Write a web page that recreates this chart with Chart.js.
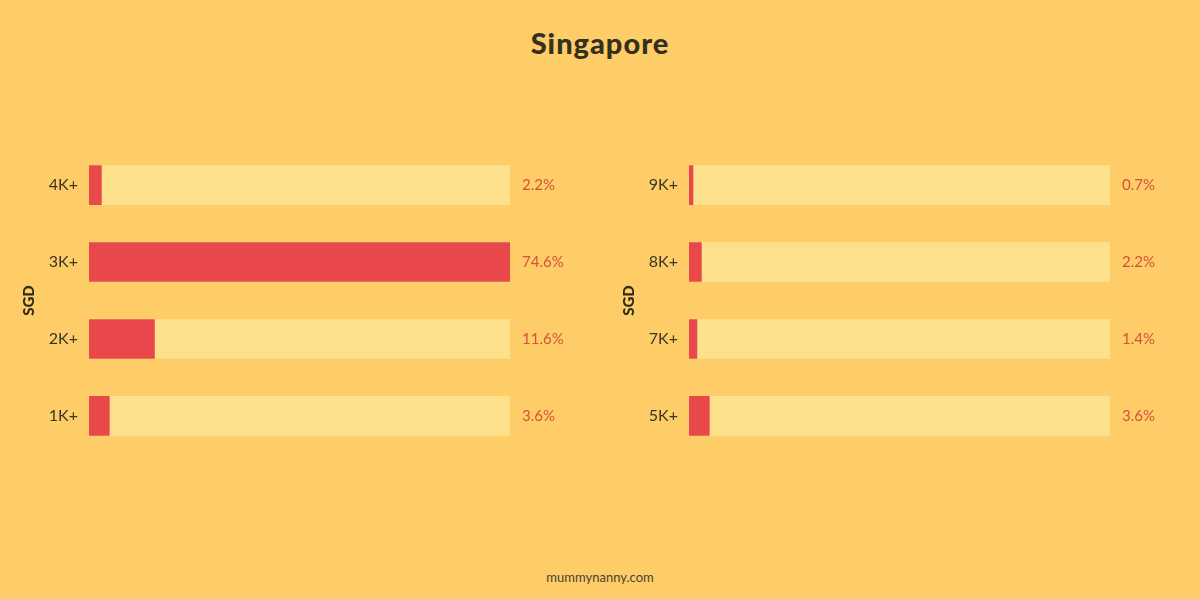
<!DOCTYPE html>
<html>
<head>
<meta charset="utf-8">
<script src="https://cdn.jsdelivr.net/npm/chart.js@4/dist/chart.umd.min.js"></script>
<style>
  body { margin: 0; background: #fecd67; width: 1200px; height: 599px; overflow: hidden; position: relative; font-family: Lato, "Noto Sans", sans-serif; }
  h1 { position: absolute; top: 25px; left: 0; width: 1200px; margin: 0; text-align: center; font-size: 29px; font-weight: 900; color: #33301e; letter-spacing: 1px; }
  .box { position: absolute; top: 134px; width: 600px; height: 333px; }
  .foot { position: absolute; top: 569px; left: 0; width: 1200px; text-align: center; font-size: 13px; color: #4a4230; }
</style>
</head>
<body>
<h1>Singapore</h1>
<div class="box" style="left:0"><canvas id="left-chart"></canvas></div>
<div class="box" style="left:600px"><canvas id="right-chart"></canvas></div>
<div class="foot">mummynanny.com</div>
<script>
var leftLabels = ["4K+", "3K+", "2K+", "1K+"];
var leftValues = [2.2, 74.6, 11.6, 3.6];
var rightLabels = ["9K+", "8K+", "7K+", "5K+"];
var rightValues = [0.7, 2.2, 1.4, 3.6];
var scaleMax = 74.6;

// draws the percent text to the right of each track
var valueText = {
    id: 'valueText',
    afterDatasetsDraw: function (chart) {
        var c = chart.ctx;
        var y = chart.scales.y;
        var vals = chart.data.datasets[0].data;
        c.save();
        c.font = '15px Lato, "Noto Sans", sans-serif';
        c.fillStyle = '#d4503c';
        c.textBaseline = 'middle';
        for (var i = 0; i < vals.length; i++) {
            c.fillText(vals[i].toFixed(1) + '%', chart.chartArea.right + 12, y.getPixelForValue(i));
        }
        c.restore();
    }
};

function makeChart(id, labels, values) {
    var track = labels.map(function () { return scaleMax; });
    return new Chart(document.getElementById(id), {
        type: 'bar',
        data: {
            labels: labels,
            datasets: [{
                data: values,
                backgroundColor: '#e8484a',
                barThickness: 39,
                grouped: false
            }, {
                data: track,
                backgroundColor: '#fde08b',
                barThickness: 39,
                grouped: false
            }]
        },
        options: {
            indexAxis: 'y',
            responsive: true,
            maintainAspectRatio: false,
            animation: false,
            layout: { padding: { top: 0, bottom: 0, right: 90 } },
            plugins: { legend: { display: false }, tooltip: { enabled: false } },
            scales: {
                x: { display: false, min: 0, max: scaleMax },
                y: {
                    grid: { display: false },
                    border: { display: false },
                    ticks: { color: '#3b3526', padding: 3, font: { size: 16, family: 'Lato, "Noto Sans", sans-serif' } },
                    title: {
                        display: true,
                        text: 'SGD',
                        color: '#2e2a1a',
                        padding: { top: 20, bottom: 0 },
                        font: { size: 15, weight: '900', family: 'Lato, "Noto Sans", sans-serif' }
                    },
                    afterFit: function (scale) { scale.width = 89; }
                }
            }
        },
        plugins: [valueText]
    });
}

makeChart('left-chart', leftLabels, leftValues);
makeChart('right-chart', rightLabels, rightValues);
</script>
</body>
</html>
